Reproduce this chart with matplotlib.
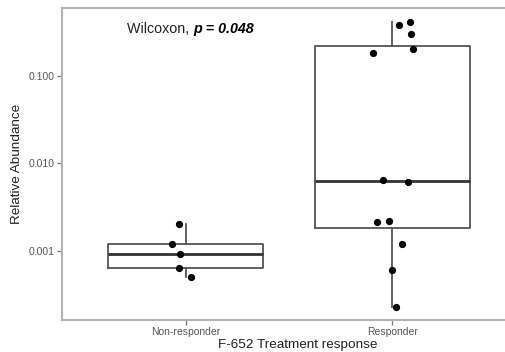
import numpy as np
import matplotlib
matplotlib.use("Agg")
import matplotlib.pyplot as plt
from matplotlib import cbook

plt.rcParams['font.family'] = ['Liberation Sans', 'DejaVu Sans']

# ---- data ----
groups = ["Non-responder", "Responder"]
nonresp = [0.00201, 0.00120, 0.000922, 0.000633, 0.000507]
nonresp_jitter = [-0.033, -0.069, -0.029, -0.033, 0.026]
resp = [0.410, 0.376, 0.299, 0.200, 0.182, 0.00644, 0.00611,
        0.00219, 0.00212, 0.00119, 0.00061, 0.000231]
resp_jitter = [0.086, 0.034, 0.092, 0.099, -0.092, -0.045, 0.078,
               -0.016, -0.074, 0.049, 0.0, 0.018]
ytick_vals = [0.001, 0.01, 0.1]
ytick_labels = ["0.001", "0.010", "0.100"]
stat_label = "p = 0.048"

W, H = 505, 352
fig = plt.figure(figsize=(W / 100, H / 100), dpi=100)
ax = fig.add_axes([62 / W, 32 / H, 454 / W, 312 / H])

# box stats computed on log10 scale (like ggplot with scale_y_log10)
stats = []
for vals in (nonresp, resp):
    s = cbook.boxplot_stats(np.log10(vals))[0]
    for k in ("med", "q1", "q3", "whislo", "whishi", "mean"):
        s[k] = 10 ** s[k]
    s["fliers"] = 10 ** np.asarray(s["fliers"])
    stats.append(s)

box_col = "#555555"
ax.bxp(stats, positions=[1, 2], widths=0.75, showfliers=False, showcaps=False,
       boxprops=dict(color=box_col, linewidth=1.3),
       whiskerprops=dict(color=box_col, linewidth=1.3),
       medianprops=dict(color="#333333", linewidth=2.0))

for i, (vals, jit) in enumerate(((nonresp, nonresp_jitter), (resp, resp_jitter))):
    xs = np.array(jit) + (i + 1)
    ax.plot(xs, vals, "o", color="black", markersize=4.2, zorder=5)

ax.set_yscale("log")
ax.set_ylim(10 ** -3.789, 10 ** -0.227)
ax.set_xlim(0.4, 2.6)
ax.set_yticks(ytick_vals)
ax.set_yticklabels(ytick_labels)
ax.yaxis.set_minor_locator(matplotlib.ticker.NullLocator())
ax.set_xticks([1, 2])
ax.set_xticklabels(groups)

for sp in ax.spines.values():
    sp.set_color("#b3b3b3")
    sp.set_linewidth(1.5)
ax.spines["right"].set_visible(False)

ax.tick_params(axis="both", colors="#777777", length=3.5, width=0.9,
               labelsize=7.5, labelcolor="#555555", pad=1.5)

ax.set_xlabel("F-652 Treatment response", fontsize=9.7, color="#222222")
ax.set_ylabel("Relative Abundance", fontsize=9.7, color="#222222")
ax.xaxis.set_label_coords(0.519, -0.062)
ax.yaxis.set_label_coords(-0.086, 0.5)

t1 = ax.text(0.143, 0.933, "Wilcoxon, ", transform=ax.transAxes,
             fontsize=10.3, color="#222222", ha="left", va="center")
ax.annotate(stat_label, xy=(1, 0.5), xycoords=t1, fontsize=10.3,
            fontweight="bold", fontstyle="italic", color="black",
            ha="left", va="center")

fig.savefig("out.png", dpi=100)
